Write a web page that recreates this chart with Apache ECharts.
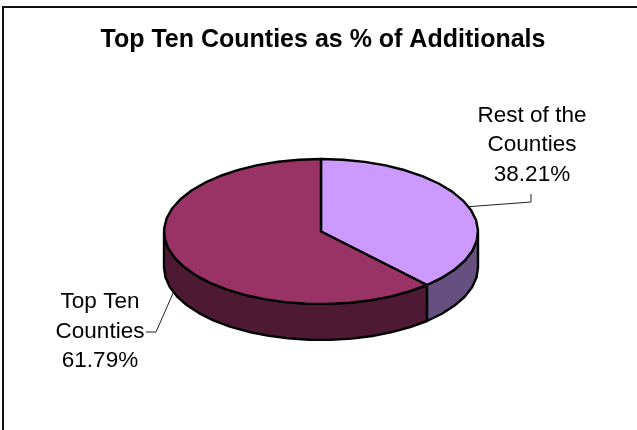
<!DOCTYPE html>
<html>
<head>
<meta charset="utf-8">
<style>html,body{margin:0;padding:0;background:#fff}#c{width:637px;height:430px}</style>
<script src="https://cdn.jsdelivr.net/npm/echarts@6/dist/echarts.min.js"></script>
</head>
<body>
<div id="c"></div>
<script>
const titleText = 'Top Ten Counties as % of Additionals';
const categories = ['Rest of the\nCounties', 'Top Ten\nCounties'];
const values = [38.21, 61.79];
const topColors = ['#CC99FF', '#993366'];
const sideColors = ['#665080', '#4D1933'];

const cx = 321, cy = 231.5, rx = 157, ry = 72.5, depth = 36, stepDeg = 8;
const labelBoxes = [
  {x: 532, y: 145, leader: f => [f, [531, 202], [531, 194]], at: 70},
  {x: 100, y: 331.5, leader: f => [f, [156, 332], [146, 332]], at: 250}
];
const total = values.reduce((a, b) => a + b, 0);
function pt(deg, dy) {
  const r = deg * Math.PI / 180;
  return [cx + rx * Math.sin(r), cy - ry * Math.cos(r) + (dy || 0)];
}
function arc(a0, a1, dy) {
  const out = [];
  const n = Math.max(1, Math.round((a1 - a0) / stepDeg));
  for (let i = 0; i <= n; i++) out.push(pt(a0 + (a1 - a0) * i / n, dy));
  return out;
}
const chart = echarts.init(document.getElementById('c'), null, {renderer: 'canvas'});
chart.setOption({
  animation: false,
  backgroundColor: '#fff',
  title: {
    text: titleText, left: 318, top: 23, textAlign: 'center',
    textStyle: {fontFamily: 'Liberation Sans', fontWeight: 'bold', fontSize: 25, color: '#000'}
  },
  graphic: [{
    type: 'rect', silent: true, z: -1,
    shape: {x: 3, y: 7, width: 700, height: 500},
    style: {fill: '#fff', stroke: '#111', lineWidth: 2}
  }],
  series: [{
    type: 'custom',
    coordinateSystem: 'none',
    data: values.map((v, i) => ({value: v, name: categories[i]})),
    renderItem(params, api) {
      const i = params.dataIndex;
      const before = values.slice(0, i).reduce((a, b) => a + b, 0);
      const a0 = before / total * 360;
      const a1 = (before + api.value(0)) / total * 360;
      const kids = [];
      const f0 = Math.max(a0, 90), f1 = Math.min(a1, 270);
      if (f1 > f0) {
        const front = arc(f0, f1, 0);
        const back = arc(f0, f1, depth).reverse();
        kids.push({type: 'polygon', shape: {points: front.concat(back)},
          style: {fill: sideColors[i], stroke: '#000', lineWidth: 2.4, lineJoin: 'round'}});
      }
      kids.push({type: 'polygon', shape: {points: [[cx, cy]].concat(arc(a0, a1, 0))},
        style: {fill: topColors[i], stroke: '#000', lineWidth: 2.4, lineJoin: 'round'}});
      const b = labelBoxes[i];
      kids.push({type: 'polyline', shape: {points: b.leader(pt(b.at, b.at > 180 ? depth : 0))},
        style: {fill: 'none', stroke: '#222', lineWidth: 1}});
      kids.push({type: 'text', x: b.x, y: b.y,
        style: {text: categories[i] + '\n' + api.value(0).toFixed(2) + '%',
          fontFamily: 'Liberation Sans', fontSize: 22.5, lineHeight: 29.7,
          align: 'center', verticalAlign: 'middle', fill: '#000'}});
      return {type: 'group', children: kids};
    }
  }]
});
</script>
</body>
</html>
